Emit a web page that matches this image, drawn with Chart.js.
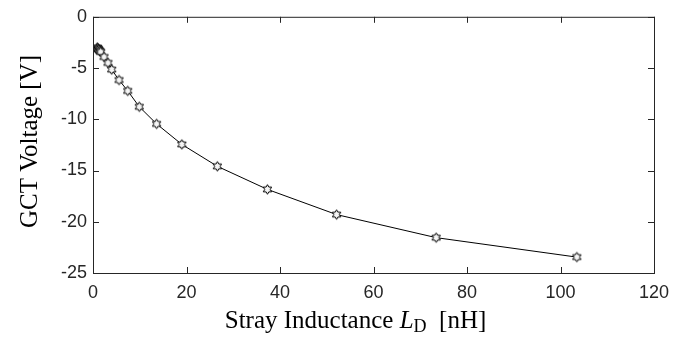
<!DOCTYPE html>
<html>
<head>
<meta charset="utf-8">
<script src="https://cdn.jsdelivr.net/npm/chart.js@4/dist/chart.umd.min.js"></script>
<style>
  html, body { margin: 0; padding: 0; background: #fff; }
  #wrap { width: 686px; height: 339px; }
</style>
</head>
<body>
<div id="wrap"><canvas id="c" width="686" height="339"></canvas></div>
<script>
// stray inductance L_D [nH] and resulting GCT voltage [V]
const inductance = [0.9, 1.0, 1.1, 1.2, 1.35, 1.5, 1.65, 2.36, 3.2, 4.0, 5.57, 7.43, 9.9, 13.6, 19.0, 26.6, 37.3, 52.1, 73.4, 103.5];
const gctVoltage = [-3.0, -3.06, -3.12, -3.18, -3.27, -3.35, -3.43, -3.92, -4.5, -5.15, -6.17, -7.23, -8.78, -10.45, -12.45, -14.59, -16.84, -19.3, -21.55, -23.45];
const xTicks = [0, 20, 40, 60, 80, 100, 120];
const yTicks = [0, -5, -10, -15, -20, -25];

(() => {
    const axisColor = '#262626';

    // hexagram marker like matlab's 'h'
    function hexagram(R) {
        const size = Math.ceil(R * 2 + 3);
        const cv = document.createElement('canvas');
        cv.width = size; cv.height = size;
        const g = cv.getContext('2d');
        const cx = size / 2, cy = size / 2, r = R / Math.sqrt(3);
        g.beginPath();
        for (let i = 0; i < 12; i++) {
            const a = -Math.PI / 2 + i * Math.PI / 6;
            const rad = i % 2 === 0 ? R : r;
            const px = cx + rad * Math.cos(a), py = cy + rad * Math.sin(a);
            if (i === 0) g.moveTo(px, py); else g.lineTo(px, py);
        }
        g.closePath();
        g.fillStyle = '#f6f6f6';
        g.fill();
        g.strokeStyle = '#000';
        g.lineWidth = 1;
        g.stroke();
        return cv;
    }

    // box, inward ticks and the two axis titles
    const frame = {
        id: 'frame',
        afterDraw(chart) {
            const { ctx, chartArea: a, scales } = chart;
            ctx.save();
            ctx.strokeStyle = axisColor;
            ctx.lineWidth = 1;
            ctx.strokeRect(a.left + 0.5, a.top + 0.5, a.right - a.left, a.bottom - a.top);
            const tl = 6;
            ctx.beginPath();
            xTicks.forEach(v => {
                const px = Math.round(scales.x.getPixelForValue(v)) + 0.5;
                ctx.moveTo(px, a.bottom); ctx.lineTo(px, a.bottom - tl);
                ctx.moveTo(px, a.top); ctx.lineTo(px, a.top + tl);
            });
            yTicks.forEach(v => {
                const py = Math.round(scales.y.getPixelForValue(v)) + 0.5;
                ctx.moveTo(a.left, py); ctx.lineTo(a.left + tl, py);
                ctx.moveTo(a.right, py); ctx.lineTo(a.right - tl, py);
            });
            ctx.stroke();

            ctx.fillStyle = '#000';
            const serif = "'Liberation Serif', 'Times New Roman', serif";
            // y title
            ctx.save();
            ctx.translate(37, 141.5);
            ctx.rotate(-Math.PI / 2);
            ctx.font = '25px ' + serif;
            ctx.textAlign = 'center';
            ctx.textBaseline = 'alphabetic';
            ctx.fillText('GCT Voltage [V]', 0, 0);
            ctx.restore();

            // x title with italic L and subscript D
            const parts = [
                { t: 'Stray Inductance ', f: '25px ' + serif, dy: 0 },
                { t: 'L', f: 'italic 25px ' + serif, dy: 0 },
                { t: 'D', f: '18px ' + serif, dy: 4 },
                { t: '  [nH]', f: '25px ' + serif, dy: 0 },
            ];
            let w = 0;
            parts.forEach(p => { ctx.font = p.f; p.w = ctx.measureText(p.t).width; w += p.w; });
            let x = 355.5 - w / 2;
            ctx.textAlign = 'left';
            parts.forEach(p => {
                ctx.font = p.f;
                ctx.fillText(p.t, x, 328 + p.dy);
                x += p.w;
            });
            ctx.restore();
        }
    };

    const tickFont = { family: "'Liberation Sans', Arial, sans-serif", size: 18 };

    new Chart(document.getElementById('c').getContext('2d'), {
        type: 'line',
        data: {
            datasets: [{
                data: inductance.map((v, i) => ({ x: v, y: gctVoltage[i] })),
                borderColor: '#000',
                borderWidth: 1,
                tension: 0,
                fill: false,
                pointStyle: hexagram(4.8),
                pointRadius: 5,
                pointHoverRadius: 5,
            }],
        },
        options: {
            responsive: false,
            animation: false,
            devicePixelRatio: 1,
            layout: { padding: { left: 0, top: 14, right: 32, bottom: 0 } },
            plugins: { legend: { display: false }, tooltip: { enabled: false } },
            scales: {
                x: {
                    type: 'linear',
                    min: 0, max: 120,
                    afterBuildTicks: s => { s.ticks = xTicks.map(v => ({ value: v })); },
                    afterFit: s => { s.height = 66; },
                    grid: { display: false, drawTicks: false },
                    border: { display: false },
                    ticks: { color: axisColor, font: tickFont, padding: 9, maxRotation: 0 },
                },
                y: {
                    type: 'linear',
                    min: -25, max: 0,
                    afterBuildTicks: s => { s.ticks = yTicks.map(v => ({ value: v })); },
                    afterFit: s => { s.width = 93; },
                    grid: { display: false, drawTicks: false },
                    border: { display: false },
                    ticks: { color: axisColor, font: tickFont, padding: 6 },
                },
            },
        },
        plugins: [frame],
    });
})();
</script>
</body>
</html>
